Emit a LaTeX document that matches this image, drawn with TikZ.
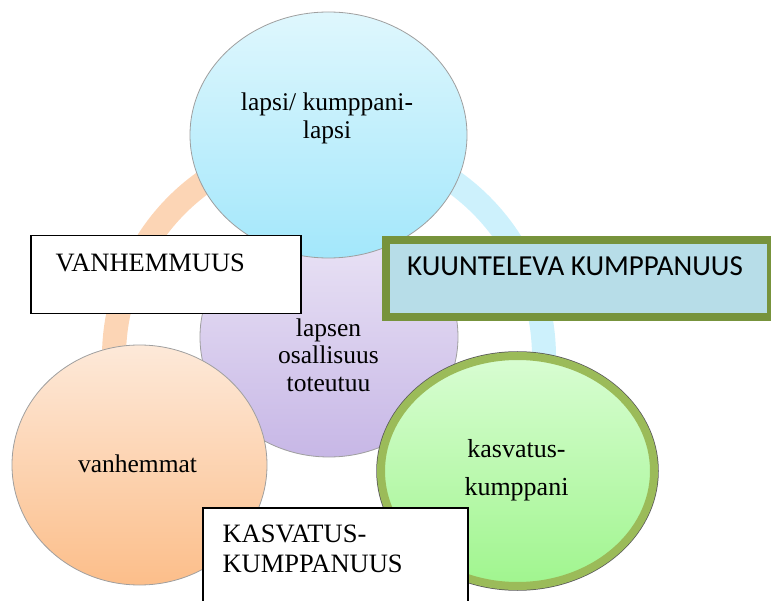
\documentclass[tikz,border=0pt]{standalone}
\usepackage{fontspec}
\setmainfont{Liberation Serif}
\newfontfamily\calibri{Carlito}
\usetikzlibrary{shapes.geometric}
\definecolor{ringorange}{HTML}{FCD5B5}
\definecolor{ringblue}{HTML}{CDF1FC}
\definecolor{olivering}{HTML}{9BBB59}
\definecolor{darkolive}{HTML}{77933C}
\definecolor{boxblue}{HTML}{B7DDE8}
\definecolor{bluetop}{HTML}{DFF7FD}
\definecolor{bluebot}{HTML}{A3E7FB}
\definecolor{lilactop}{HTML}{ECE6F6}
\definecolor{lilacbot}{HTML}{C7B7E6}
\definecolor{peachtop}{HTML}{FDE9D9}
\definecolor{peachbot}{HTML}{FCBE8A}
\definecolor{greentop}{HTML}{D8FDD2}
\definecolor{greenbot}{HTML}{A0F58E}
\begin{document}
\begin{tikzpicture}[x=1pt,y=-1pt,
    bubble/.style={ellipse,draw=gray!75,line width=0.8pt,inner sep=0pt},
    bubbletext/.style={align=center,font=\fontsize{25.5}{28}\selectfont},
    labelbox/.style={rectangle,draw=black,line width=1.5pt,fill=white,anchor=north west,inner sep=0pt},
    boxtext/.style={align=left,font=\fontsize{26.5}{30}\selectfont}]
  \useasboundingbox (0,0) rectangle (771,601);
  \coordinate (ring) at (329,357);
  \draw[ringorange,line width=24pt] (ring) ++(150:215) arc[start angle=150,end angle=270,radius=215];
  \draw[ringblue,line width=24pt] (ring) ++(270:215) arc[start angle=270,end angle=392,radius=215];
  \node[bubble,minimum width=258pt,minimum height=240pt,top color=lilactop,bottom color=lilacbot] (mid) at (329,337) {};
  \node[bubble,minimum width=277pt,minimum height=246pt,top color=bluetop,bottom color=bluebot] (child) at (328.5,135) {};
  \node[bubble,minimum width=255pt,minimum height=240pt,top color=peachtop,bottom color=peachbot] (parents) at (139.5,465) {};
  \node[bubble,draw=olivering,line width=8pt,minimum width=273pt,minimum height=230pt,top color=greentop,bottom color=greenbot,
    preaction={draw=gray!70!black,line width=9.5pt}] (partner) at (517.5,471) {};
  \node[bubbletext] (childtext) at (327,118) {lapsi/ kumppani-\\lapsi};
  \node[bubbletext,font=\fontsize{25.5}{27.5}\selectfont] (midtext) at (328.5,355) {lapsen\\osallisuus\\toteutuu};
  \node[bubbletext,anchor=base] (parentstext) at (137.5,472) {vanhemmat};
  \node[bubbletext,font=\fontsize{26}{38}\selectfont] (partnertext) at (516.5,470) {kasvatus-\\kumppani};
  \node[labelbox,minimum width=270pt,minimum height=78pt] (parentbox) at (30,235) {};
  \node[boxtext,anchor=base west] (parenthood) at (52,272) {VANHEMMUUS};
  \node[rectangle,draw=darkolive,line width=8pt,fill=boxblue,anchor=north west,inner sep=0pt,minimum width=385pt,minimum height=77pt] (listenbox) at (382,236) {};
  \node[anchor=base west,inner sep=0pt,font=\calibri\fontsize{29}{34}\selectfont] (listening) at (407,276) {KUUNTELEVA KUMPPANUUS};
  \node[labelbox,minimum width=265pt,minimum height=110pt] (partnerbox) at (202,507) {};
  \node[boxtext,anchor=west] (partnership) at (219,549) {KASVATUS-\\KUMPPANUUS};
\end{tikzpicture}
\end{document}
